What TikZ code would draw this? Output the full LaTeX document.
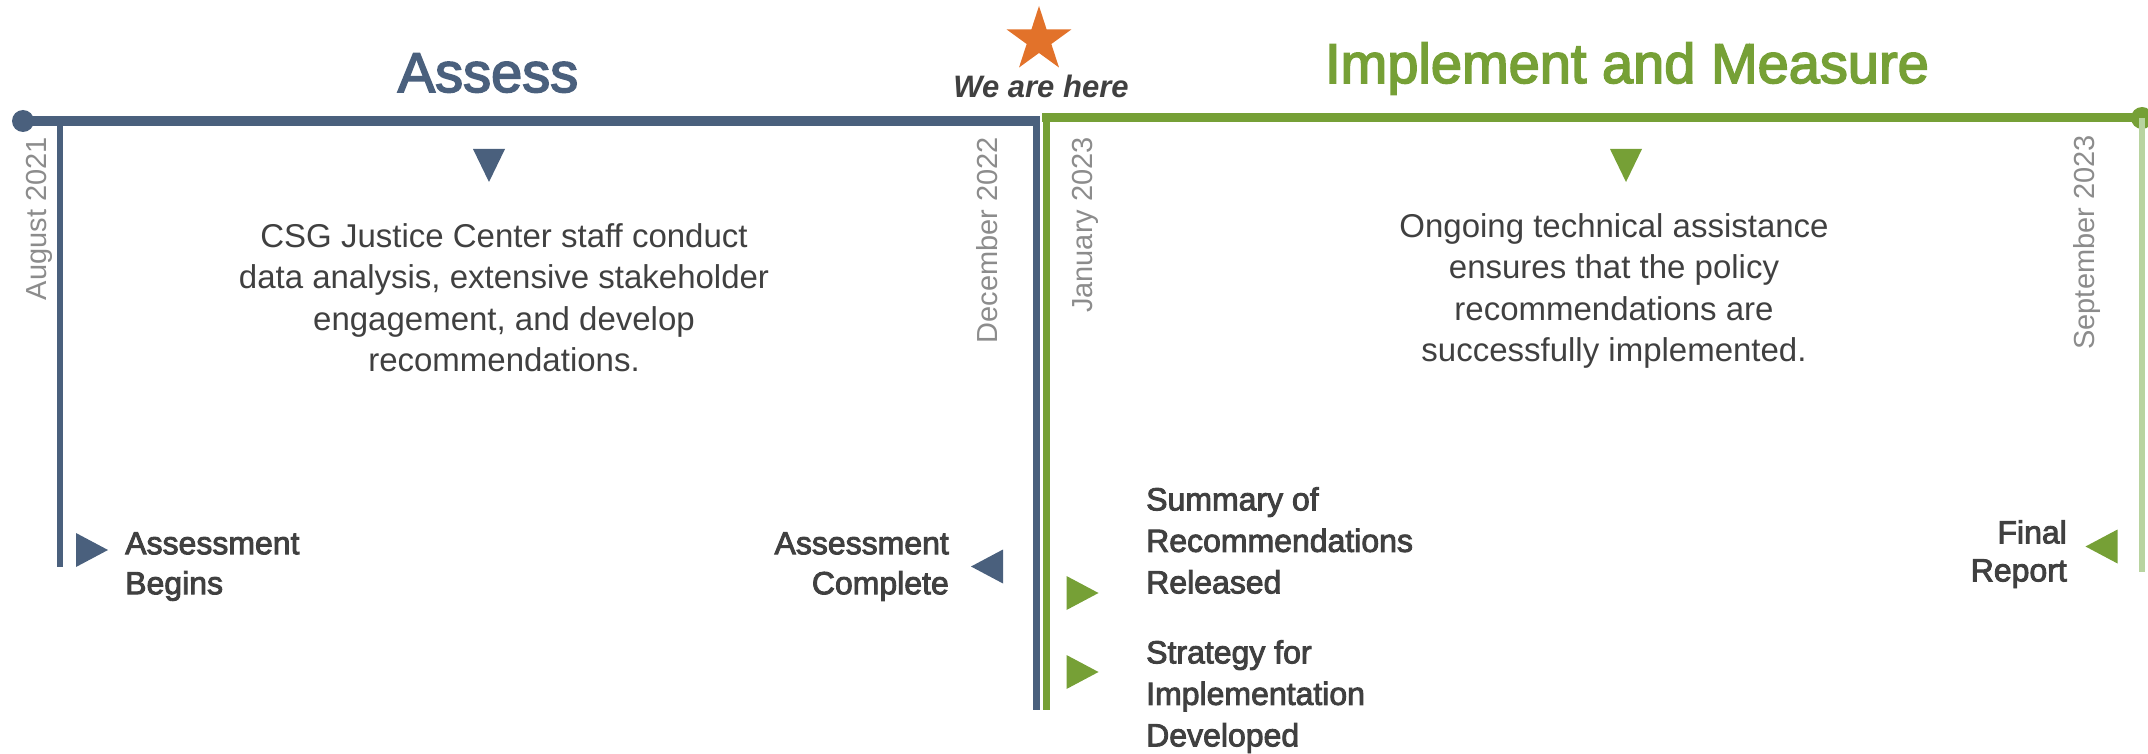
\documentclass[tikz,border=0pt]{standalone}
\usepackage{fontspec}
\setmainfont{Liberation Sans}
\usetikzlibrary{shapes.geometric}

% heavier strokes for headings: fill + stroke text rendering
\newcommand\thickglyphs[2]{\special{pdf:literal direct #1 w 2 Tr}#2\special{pdf:literal direct 0 Tr}}

\definecolor{phaseblue}{HTML}{4A607D}
\definecolor{phasegreen}{HTML}{76A036}
\definecolor{palegreen}{HTML}{B8D4A0}
\definecolor{starorange}{HTML}{E2722A}
\definecolor{txt}{HTML}{404040}
\definecolor{dategrey}{HTML}{8C8C8C}

\tikzset{
  tri down/.pic={\path[pic actions] (-16,-16.5) -- (16,-16.5) -- (0,16.5) -- cycle;},
  tri right/.pic={\path[pic actions] (-16,-17) -- (-16,17) -- (16,0) -- cycle;},
  tri left/.pic={\path[pic actions] (16,-17) -- (16,17) -- (-16,0) -- cycle;},
}

\begin{document}
\begin{tikzpicture}[x=1pt,y=-1pt,
  mainline/.style={line width=10pt},
  drop/.style={line width=6.5pt},
  bodytext/.style={font=\fontsize{33}{41.5}\selectfont, text=txt, align=center, inner sep=0pt},
  milestone/.style={font=\fontsize{32}{40}\selectfont, text=txt, inner sep=0pt},
  datetext/.style={font=\fontsize{29}{30}\selectfont, text=dategrey, rotate=90, anchor=east, inner sep=0pt},
  phasetitle/.style={font=\fontsize{56}{60}\selectfont, anchor=base, inner sep=0pt}
]
\useasboundingbox (0,0) rectangle (2148,754);

% ---- timeline axes ----
\coordinate (aStart) at (23,121);
\coordinate (aEnd)   at (1040,121);
\coordinate (gStart) at (1042,118);
\coordinate (gEnd)   at (2142,118);

\draw[phaseblue, mainline] (aStart) -- (aEnd);
\fill[phaseblue] (aStart) circle[radius=11pt];
\draw[phasegreen, line width=9pt] (gStart) -- (gEnd);
\fill[phasegreen] (gEnd) circle[radius=11pt];

% ---- vertical date markers ----
\coordinate (augTop) at (60,121);    \coordinate (augBot) at (60,567);
\coordinate (decTop) at (1036,121);  \coordinate (decBot) at (1036,710);
\coordinate (janTop) at (1046.5,118);\coordinate (janBot) at (1046.5,710);
\coordinate (sepTop) at (2142,118);  \coordinate (sepBot) at (2142,572);

\draw[phaseblue, drop] (augTop) -- (augBot);
\draw[phaseblue, line width=7pt] (decTop) -- (decBot);
\draw[phasegreen, line width=7pt] (janTop) -- (janBot);
\draw[palegreen, drop] (sepTop) -- (sepBot);

\node[datetext] (aug) at (39,137)   {August 2021};
\node[datetext] (dec) at (987,137)  {December 2022};
\node[datetext] (jan) at (1085,137) {January 2023};
\node[datetext] (sep) at (2087,135) {September 2023};

% ---- phase titles ----
\node[phasetitle, text=phaseblue]  (assess) at (488,92)  {\thickglyphs{1.6}{Assess}};
\node[phasetitle, text=phasegreen] (impl)   at (1627,83) {\thickglyphs{1.6}{Implement and Measure}};

% ---- current position ----
\node[star, star points=5, star point ratio=2.62, fill=starorange,
      inner sep=0pt, minimum size=68pt] (here) at (1039,40) {};
\node[font=\bfseries\itshape\fontsize{31}{32}\selectfont, text=txt,
      anchor=base, inner sep=0pt] (herelbl) at (1041,98) {We are here};

% ---- phase descriptions ----
\pic[fill=phaseblue]  at (489,165.5)  {tri down};
\pic[fill=phasegreen] at (1626,165.5) {tri down};

\node[bodytext, anchor=north] (assessdesc) at (504,223)
  {CSG Justice Center staff conduct\\data analysis, extensive stakeholder\\engagement, and develop\\recommendations.};
\node[bodytext, anchor=north] (impldesc) at (1614,213)
  {Ongoing technical assistance\\ensures that the policy\\recommendations are\\successfully implemented.};

% ---- milestones ----
\pic[fill=phaseblue]  at (92,550)     {tri right};
\pic[fill=phaseblue]  at (987,566.5)  {tri left};
\pic[fill=phasegreen] at (1082.5,593) {tri right};
\pic[fill=phasegreen] at (1082.5,672) {tri right};
\pic[fill=phasegreen] at (2101.5,546.5) {tri left};

\node[milestone, anchor=north west, align=left]  (begins)   at (125,532)
  {\thickglyphs{0.9}{Assessment}\\\thickglyphs{0.9}{Begins}};
\node[milestone, anchor=north east, align=right] (complete) at (949,532)
  {\thickglyphs{0.9}{Assessment}\\\thickglyphs{0.9}{Complete}};
\node[milestone, anchor=north west, align=left,
      font=\fontsize{32}{41.5}\selectfont] (summary)  at (1146,487)
  {\thickglyphs{0.9}{Summary of}\\\thickglyphs{0.9}{Recommendations}\\\thickglyphs{0.9}{Released}};
\node[milestone, anchor=north west, align=left,
      font=\fontsize{32}{41.5}\selectfont] (strategy) at (1146,640)
  {\thickglyphs{0.9}{Strategy for}\\\thickglyphs{0.9}{Implementation}\\\thickglyphs{0.9}{Developed}};
\node[milestone, anchor=north east, align=right,
      font=\fontsize{32}{38}\selectfont] (final) at (2067,520)
  {\thickglyphs{0.9}{Final}\\\thickglyphs{0.9}{Report}};
\end{tikzpicture}
\end{document}
